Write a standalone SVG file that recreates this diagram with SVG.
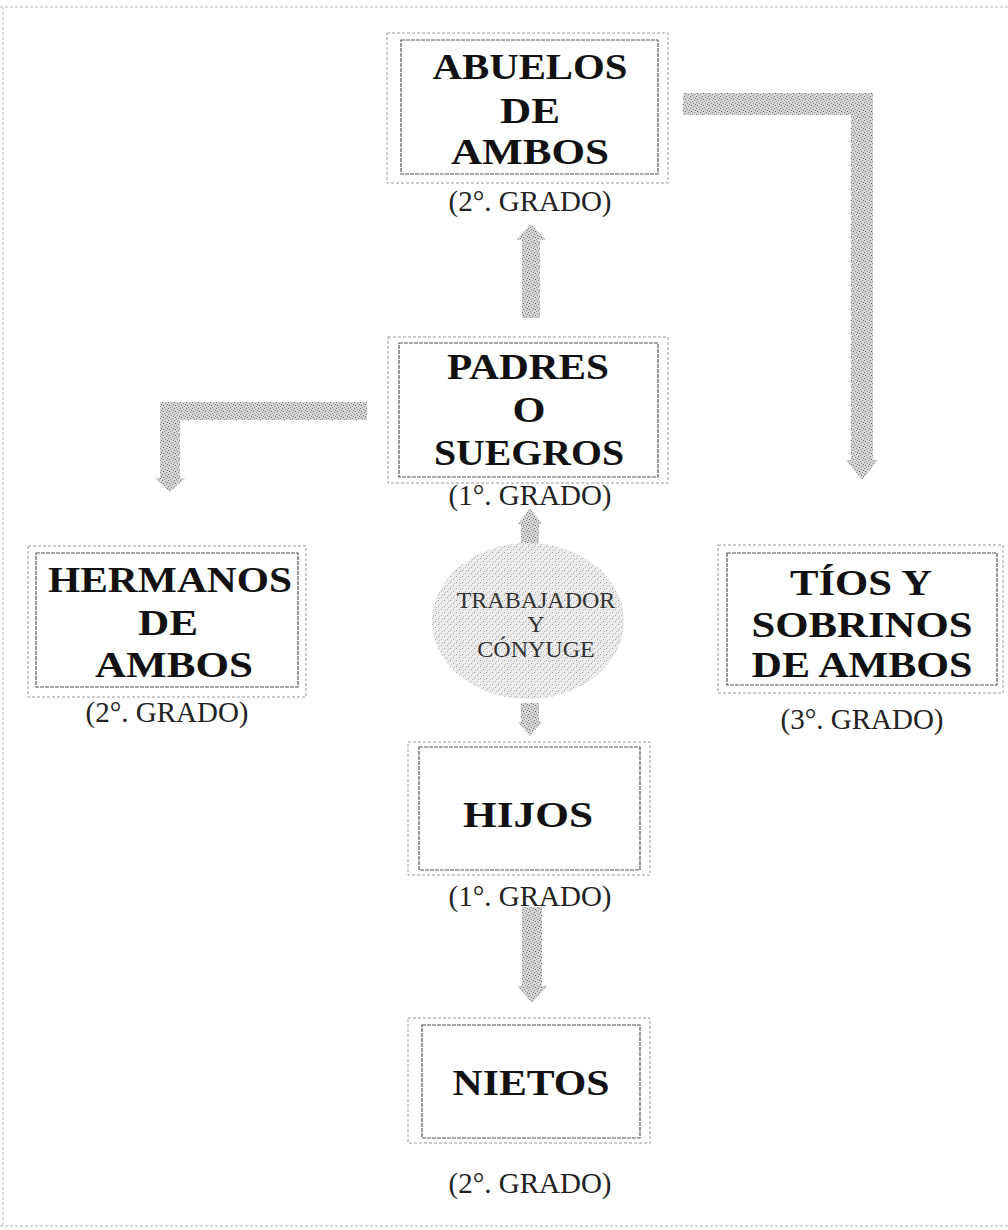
<svg xmlns="http://www.w3.org/2000/svg" width="1008" height="1230" viewBox="0 0 1008 1230">
<defs>
<pattern id="tex" width="6" height="6" patternUnits="userSpaceOnUse">
<rect width="6" height="6" fill="#d4d4d4"/>
<rect x="0" y="0" width="1" height="1" fill="#777"/>
<rect x="3" y="1" width="1" height="1" fill="#888"/>
<rect x="1" y="3" width="1" height="1" fill="#666"/>
<rect x="4" y="4" width="1" height="1" fill="#888"/>
<rect x="2" y="5" width="1" height="1" fill="#999"/>
<rect x="5" y="2" width="1" height="1" fill="#777"/>
</pattern>
<pattern id="tex2" width="6" height="6" patternUnits="userSpaceOnUse">
<rect width="6" height="6" fill="#ececec"/>
<rect x="0" y="0" width="1" height="1" fill="#999"/>
<rect x="3" y="3" width="1" height="1" fill="#aaa"/>
<rect x="4" y="1" width="1" height="1" fill="#bbb"/>
<rect x="1" y="4" width="1" height="1" fill="#bbb"/>
</pattern>
</defs>
<style>
.outer{fill:none;stroke:#9a9a9a;stroke-width:1;stroke-dasharray:3 2}
.inner{fill:none;stroke:#555;stroke-width:1.2;stroke-dasharray:4 1}
.frame{fill:none;stroke:#b5b5b5;stroke-width:1;stroke-dasharray:3 2}
.big{font-family:"Liberation Serif","Times New Roman",serif;font-weight:bold;font-size:35px;fill:#111;text-anchor:middle}
.grado{font-family:"Liberation Serif","Times New Roman",serif;font-size:29px;fill:#222;text-anchor:middle}
.small{font-family:"Liberation Serif","Times New Roman",serif;font-size:24px;fill:#333;text-anchor:middle}
.arr{fill:url(#tex);stroke:none}
</style>
<rect width="1008" height="1230" fill="#fff"/>
<g id="frame">
<line class="frame" x1="0" y1="7" x2="1008" y2="7"/>
<line class="frame" x1="3" y1="7" x2="3" y2="1226"/>
<line class="frame" x1="0" y1="1226" x2="1008" y2="1226"/>
</g>
<g id="connectors">
<path class="arr" d="M522,318 L522,240 L516,240 L531,224 L546,240 L540,240 L540,318 Z"/>
<path class="arr" d="M367,402 L160,402 L160,478 L155,478 L170,492 L185,478 L180,478 L180,420 L367,420 Z"/>
<path class="arr" d="M683,93 L873,93 L873,460 L878,460 L862,480 L846,460 L851,460 L851,115 L683,115 Z"/>
<path class="arr" d="M521,545 L521,524 L518,524 L530,508 L542,524 L539,524 L539,545 Z"/>
<path class="arr" d="M521,703 L539,703 L539,722 L542,722 L530,736 L518,722 L521,722 Z"/>
<path class="arr" d="M522,907 L542,907 L542,986 L547,986 L532,1003 L517,986 L522,986 Z"/>
</g>
<g id="abuelos">
<rect class="outer" x="387" y="33" width="281" height="150"/>
<rect class="inner" x="401" y="40" width="257" height="134"/>
<text class="big" x="530" y="79" textLength="195" lengthAdjust="spacingAndGlyphs">ABUELOS</text>
<text class="big" x="530" y="123" textLength="60" lengthAdjust="spacingAndGlyphs">DE</text>
<text class="big" x="530" y="164" textLength="158" lengthAdjust="spacingAndGlyphs">AMBOS</text>
<text class="grado" x="530" y="211">(2°. GRADO)</text>
</g>
<g id="padres">
<rect class="outer" x="388" y="337" width="280" height="146"/>
<rect class="inner" x="399" y="343" width="259" height="134"/>
<text class="big" x="528" y="379" textLength="162" lengthAdjust="spacingAndGlyphs">PADRES</text>
<text class="big" x="529" y="422" textLength="33" lengthAdjust="spacingAndGlyphs">O</text>
<text class="big" x="529" y="465" textLength="190" lengthAdjust="spacingAndGlyphs">SUEGROS</text>
<text class="grado" x="530" y="505">(1°. GRADO)</text>
</g>
<g id="trabajador">
<ellipse cx="528" cy="621" rx="96" ry="78" fill="url(#tex2)"/>
<text class="small" x="536" y="608">TRABAJADOR</text>
<text class="small" x="536" y="632">Y</text>
<text class="small" x="536" y="657">CÓNYUGE</text>
</g>
<g id="hermanos">
<rect class="outer" x="28" y="546" width="278" height="151"/>
<rect class="inner" x="36" y="553" width="262" height="134"/>
<text class="big" x="170" y="592" textLength="244" lengthAdjust="spacingAndGlyphs">HERMANOS</text>
<text class="big" x="168" y="635" textLength="60" lengthAdjust="spacingAndGlyphs">DE</text>
<text class="big" x="174" y="677" textLength="158" lengthAdjust="spacingAndGlyphs">AMBOS</text>
<text class="grado" x="167" y="722">(2°. GRADO)</text>
</g>
<g id="tios">
<rect class="outer" x="718" y="545" width="285" height="148"/>
<rect class="inner" x="727" y="553" width="270" height="132"/>
<text class="big" x="861" y="595" textLength="142" lengthAdjust="spacingAndGlyphs">TÍOS Y</text>
<text class="big" x="862" y="637" textLength="221" lengthAdjust="spacingAndGlyphs">SOBRINOS</text>
<text class="big" x="862" y="677" textLength="221" lengthAdjust="spacingAndGlyphs">DE AMBOS</text>
<text class="grado" x="862" y="729">(3°. GRADO)</text>
</g>
<g id="hijos">
<rect class="outer" x="408" y="742" width="242" height="133"/>
<rect class="inner" x="419" y="747" width="221" height="123"/>
<text class="big" x="528" y="827" textLength="130" lengthAdjust="spacingAndGlyphs">HIJOS</text>
<text class="grado" x="530" y="906">(1°. GRADO)</text>
</g>
<g id="nietos">
<rect class="outer" x="408" y="1018" width="242" height="125"/>
<rect class="inner" x="422" y="1025" width="218" height="113"/>
<text class="big" x="531" y="1095" textLength="157" lengthAdjust="spacingAndGlyphs">NIETOS</text>
<text class="grado" x="530" y="1193">(2°. GRADO)</text>
</g>
</svg>
